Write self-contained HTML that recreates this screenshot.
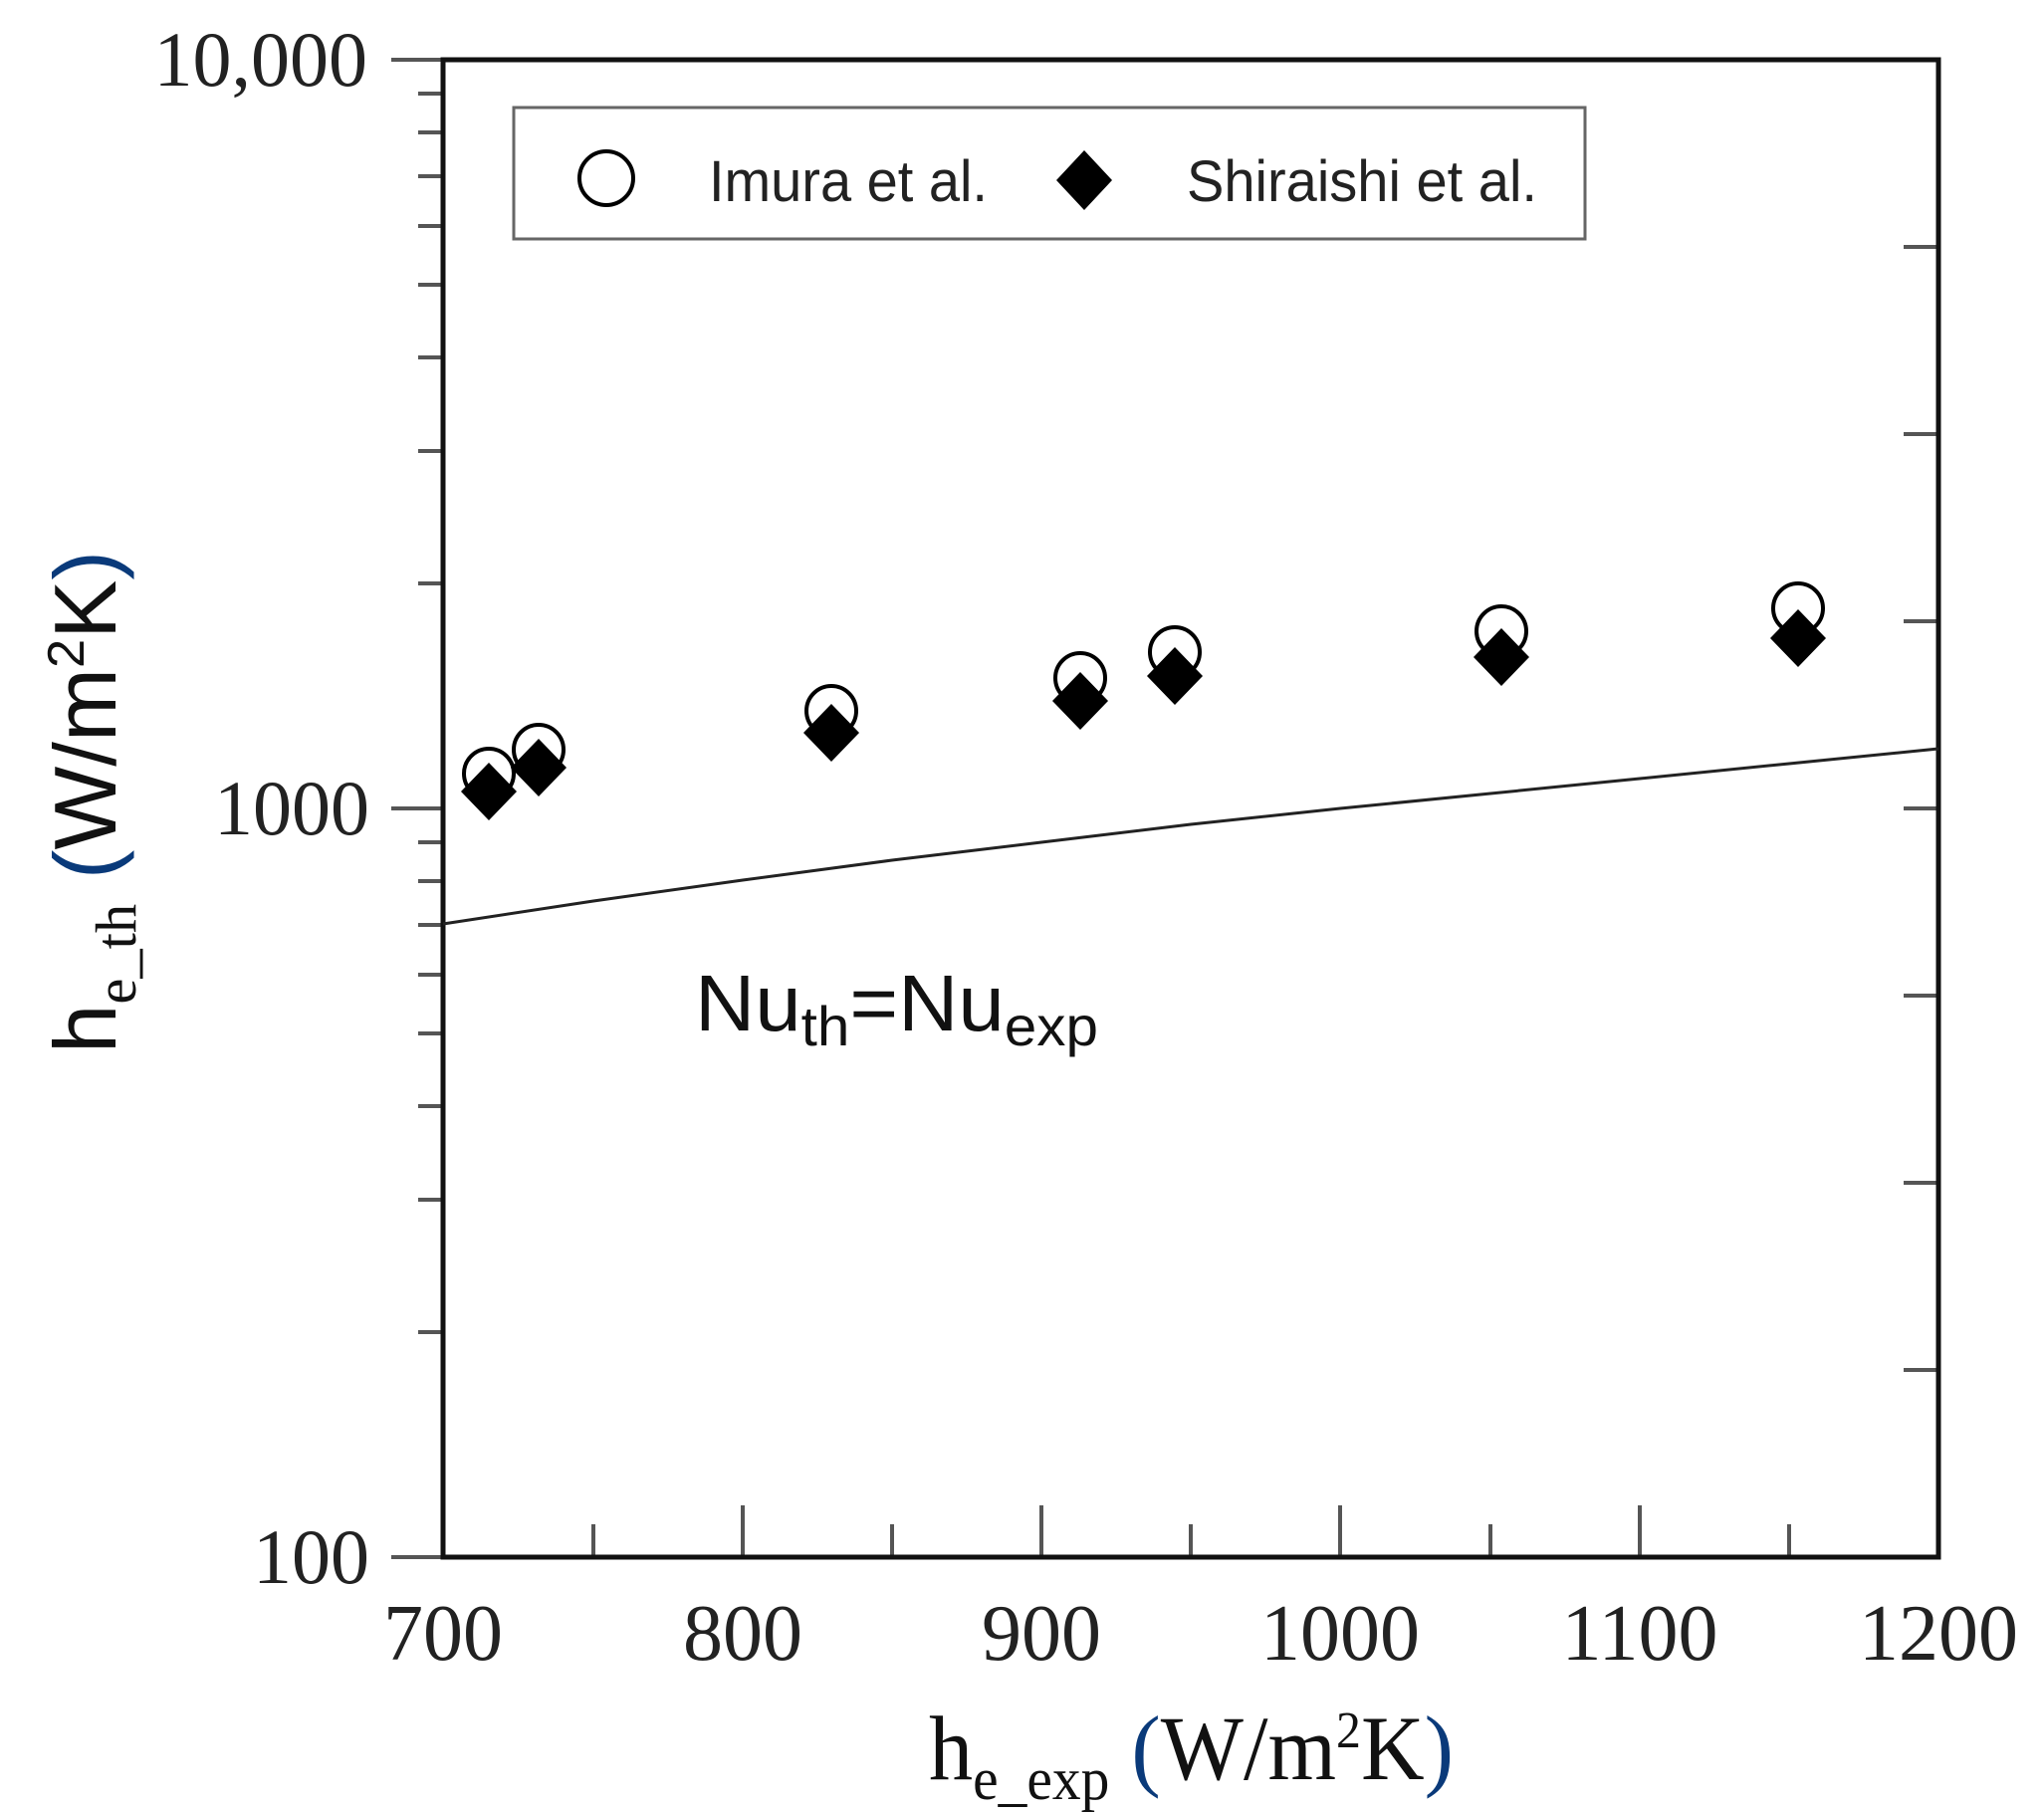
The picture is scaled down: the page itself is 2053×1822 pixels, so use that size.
<!DOCTYPE html>
<html><head><meta charset="utf-8"><style>
html,body{margin:0;padding:0;background:#fff;}
svg{display:block;}
</style></head><body>
<svg width="2053" height="1822" viewBox="0 0 2053 1822" xmlns="http://www.w3.org/2000/svg">
<rect width="2053" height="1822" fill="#fff"/>
<g stroke="#555" stroke-width="4">
<line x1="393" y1="60" x2="445" y2="60"/>
<line x1="393" y1="812" x2="445" y2="812"/>
<line x1="393" y1="1564" x2="445" y2="1564"/>
<line x1="420" y1="1338" x2="445" y2="1338"/>
<line x1="420" y1="1205" x2="445" y2="1205"/>
<line x1="420" y1="1111" x2="445" y2="1111"/>
<line x1="420" y1="1038" x2="445" y2="1038"/>
<line x1="420" y1="979" x2="445" y2="979"/>
<line x1="420" y1="929" x2="445" y2="929"/>
<line x1="420" y1="885" x2="445" y2="885"/>
<line x1="420" y1="846" x2="445" y2="846"/>
<line x1="420" y1="586" x2="445" y2="586"/>
<line x1="420" y1="453" x2="445" y2="453"/>
<line x1="420" y1="359" x2="445" y2="359"/>
<line x1="420" y1="286" x2="445" y2="286"/>
<line x1="420" y1="227" x2="445" y2="227"/>
<line x1="420" y1="177" x2="445" y2="177"/>
<line x1="420" y1="133" x2="445" y2="133"/>
<line x1="420" y1="94" x2="445" y2="94"/>
<line x1="1912" y1="248" x2="1947" y2="248"/>
<line x1="1912" y1="436" x2="1947" y2="436"/>
<line x1="1912" y1="624" x2="1947" y2="624"/>
<line x1="1912" y1="812" x2="1947" y2="812"/>
<line x1="1912" y1="1000" x2="1947" y2="1000"/>
<line x1="1912" y1="1188" x2="1947" y2="1188"/>
<line x1="1912" y1="1376" x2="1947" y2="1376"/>
<line x1="746" y1="1564" x2="746" y2="1512"/>
<line x1="1046" y1="1564" x2="1046" y2="1512"/>
<line x1="1346" y1="1564" x2="1346" y2="1512"/>
<line x1="1647" y1="1564" x2="1647" y2="1512"/>
<line x1="596" y1="1564" x2="596" y2="1531"/>
<line x1="896" y1="1564" x2="896" y2="1531"/>
<line x1="1196" y1="1564" x2="1196" y2="1531"/>
<line x1="1497" y1="1564" x2="1497" y2="1531"/>
<line x1="1797" y1="1564" x2="1797" y2="1531"/>
</g>
<rect x="445" y="60" width="1502" height="1504" fill="none" stroke="#111" stroke-width="5"/>
<polyline fill="none" stroke="#222" stroke-width="3" points="445,928 596,905 746,884 896,864 1046,846 1196,828 1346,812 1497,797 1647,782 1797,767 1947,752"/>
<rect x="516" y="108" width="1076" height="132" fill="#fff" stroke="#666" stroke-width="3"/>
<circle cx="609" cy="179" r="27" fill="#fff" stroke="#000" stroke-width="4"/>
<polygon points="1089,151 1117,181 1089,211 1061,181" fill="#000"/>
<text x="712" y="202" font-family="Liberation Sans, sans-serif" font-size="58" textLength="280" lengthAdjust="spacingAndGlyphs" fill="#222">Imura et al.</text>
<text x="1192" y="202" font-family="Liberation Sans, sans-serif" font-size="58" textLength="352" lengthAdjust="spacingAndGlyphs" fill="#222">Shiraishi et al.</text>
<g fill="#fff" stroke="#000" stroke-width="4">
<circle cx="491" cy="777" r="25"/>
<circle cx="541" cy="753" r="25"/>
<circle cx="835" cy="714" r="25"/>
<circle cx="1085" cy="681" r="25"/>
<circle cx="1180" cy="655" r="25"/>
<circle cx="1508" cy="634" r="25"/>
<circle cx="1806" cy="611" r="25"/>
</g>
<g fill="#000">
<polygon points="491,766 519,795 491,824 463,795"/>
<polygon points="541,742 569,771 541,800 513,771"/>
<polygon points="835,707 863,736 835,765 807,736"/>
<polygon points="1085,675 1113,704 1085,733 1057,704"/>
<polygon points="1180,650 1208,679 1180,708 1152,679"/>
<polygon points="1508,631 1536,660 1508,689 1480,660"/>
<polygon points="1806,612 1834,641 1806,670 1778,641"/>
</g>
<text x="698" y="1035" font-family="Liberation Sans, sans-serif" font-size="80" fill="#111" textLength="405" lengthAdjust="spacingAndGlyphs">Nu<tspan font-size="56" dy="15">th</tspan><tspan dy="-15">=Nu</tspan><tspan font-size="56" dy="15">exp</tspan></text>
<g font-family="Liberation Serif, serif" font-size="78" fill="#222" text-anchor="end">
<text x="369" y="86">10,000</text>
<text x="371" y="838">1000</text>
<text x="371" y="1590">100</text>
</g>
<g font-family="Liberation Serif, serif" font-size="80" fill="#222" text-anchor="middle">
<text x="445" y="1667">700</text>
<text x="746" y="1667">800</text>
<text x="1046" y="1667">900</text>
<text x="1346" y="1667">1000</text>
<text x="1647" y="1667">1100</text>
<text x="1947" y="1667">1200</text>
</g>
<text x="933" y="1787" font-family="Liberation Serif, serif" font-size="92" fill="#111" textLength="527" lengthAdjust="spacingAndGlyphs">h<tspan font-size="60" dy="20">e_exp</tspan><tspan dy="-20"> </tspan><tspan fill="#0a3a7a">(</tspan>W/m<tspan font-size="52" dy="-32">2</tspan><tspan dy="32">K</tspan><tspan fill="#0a3a7a">)</tspan></text>
<text transform="translate(116,1058) rotate(-90)" font-family="Liberation Sans, sans-serif" font-size="88" fill="#111" textLength="505" lengthAdjust="spacingAndGlyphs">h<tspan font-family="Liberation Serif, serif" font-size="58" dy="20">e_th</tspan><tspan dy="-20"> </tspan><tspan fill="#0a3a7a">(</tspan>W/m<tspan font-size="52" dy="-32">2</tspan><tspan dy="32">K</tspan><tspan fill="#0a3a7a">)</tspan></text>
</svg>
</body></html>
